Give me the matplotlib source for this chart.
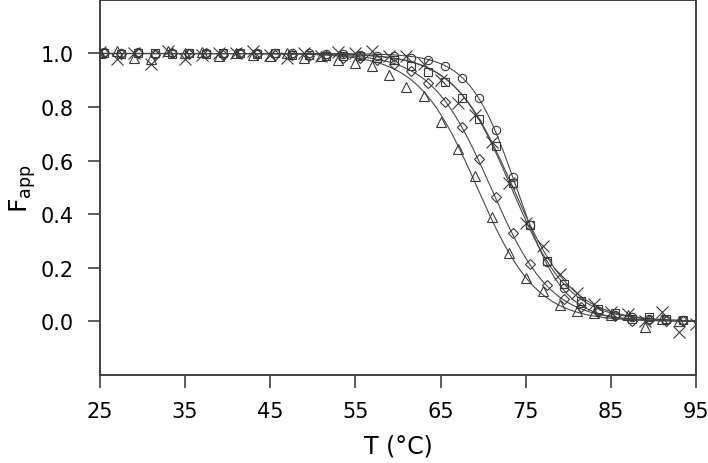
import numpy as np
import matplotlib
matplotlib.use("Agg")
from matplotlib import pyplot as plt

# temperatures (deg C) of the measured points
t_half = [25.5 + 2 * i for i in range(35)]   # circles, squares, diamonds
t_odd = [25 + 2 * i for i in range(36)]      # crosses, triangles

circles = [1.005, 1.0, 1.005, 0.998, 1.003, 1.0, 1.0, 1.002, 0.998, 1.0,
           1.0, 1.0, 1.003, 0.997, 0.998, 0.995, 0.99, 0.99, 0.983, 0.975,
           0.953, 0.91, 0.835, 0.715, 0.54, 0.36, 0.22, 0.125, 0.07, 0.04,
           0.025, 0.015, 0.01, 0.005, 0.003]
squares = [1.0, 0.998, 1.0, 1.002, 0.998, 1.0, 0.997, 1.0, 1.0, 0.998,
           1.0, 0.996, 0.995, 0.99, 0.99, 0.99, 0.985, 0.975, 0.955, 0.93,
           0.893, 0.834, 0.757, 0.654, 0.516, 0.36, 0.224, 0.138, 0.075, 0.045,
           0.03, 0.01, 0.015, 0.01, 0.005]
diamonds = [1.0, 0.998, 1.0, 0.996, 1.0, 0.998, 1.0, 0.996, 1.0, 0.997,
            0.995, 0.995, 0.99, 0.99, 0.985, 0.985, 0.975, 0.96, 0.935, 0.89,
            0.82, 0.727, 0.606, 0.464, 0.33, 0.214, 0.134, 0.085, 0.055, 0.035,
            0.02, 0.0, 0.005, 0.0, 0.0]
triangles = [1.0, 1.01, 0.985, 0.98, 1.01, 1.0, 1.005, 0.99, 1.0, 0.995,
             0.99, 1.0, 0.985, 0.99, 0.975, 0.965, 0.955, 0.92, 0.875, 0.84,
             0.745, 0.645, 0.543, 0.391, 0.255, 0.162, 0.113, 0.06, 0.04, 0.03,
             0.025, 0.025, -0.02, 0.01, 0.0]
crosses = [1.005, 0.98, 1.0, 0.96, 1.01, 0.98, 0.995, 1.0, 1.0, 1.01,
           0.995, 0.985, 1.0, 0.99, 1.005, 1.0, 1.01, 0.99, 0.99, 0.96,
           0.9, 0.815, 0.77, 0.67, 0.516, 0.367, 0.28, 0.175, 0.107, 0.063,
           0.033, 0.026, 0.0, 0.035, -0.04, -0.01]

# fitted two-state melting curves: midpoint and width per series
fit_tm = [73.9, 73.3, 70.9, 69.3, 73.5]
fit_w = [2.75, 3.4, 3.5, 3.5, 3.5]

series = [
    (t_half, circles, 'o', 6),
    (t_half, squares, 's', 6),
    (t_half, diamonds, 'D', 5),
    (t_odd[:35], triangles, '^', 7),
    (t_odd, crosses, 'x', 8),
]

col = '#3a3a3a'

fig = plt.figure(figsize=(7.08, 4.64), dpi=100)
ax = fig.add_axes([0.1412, 0.19, 0.8418, 0.808])

tt = np.linspace(25, 95, 400)
for tm, w in zip(fit_tm, fit_w):
    ax.plot(tt, 1.0 / (1.0 + np.exp((tt - tm) / w)), color='#4a4a4a', lw=0.8)

for t, y, m, ms in series:
    ax.plot(t, y, linestyle='none', marker=m, markersize=ms,
            markerfacecolor='none', markeredgecolor=col, markeredgewidth=0.8)

ax.set_xlim(25, 95)
ax.set_ylim(-0.2, 1.2)
ax.set_xticks([25, 35, 45, 55, 65, 75, 85, 95])
ax.set_yticks([0.0, 0.2, 0.4, 0.6, 0.8, 1.0])
ax.yaxis.set_major_formatter(matplotlib.ticker.FormatStrFormatter('%.1f'))
ax.tick_params(direction='out', length=9, width=1.2, color='#404040',
               labelsize=15, pad=10, top=False, right=False)
for s in ax.spines.values():
    s.set_linewidth(1.4)
    s.set_color('#404040')

ax.set_xlabel('T (\u00b0C)', fontsize=17, labelpad=9)
ax.set_ylabel('F$_{\\mathrm{app}}$', fontsize=18, labelpad=2)

fig.savefig('out.png', dpi=100)
